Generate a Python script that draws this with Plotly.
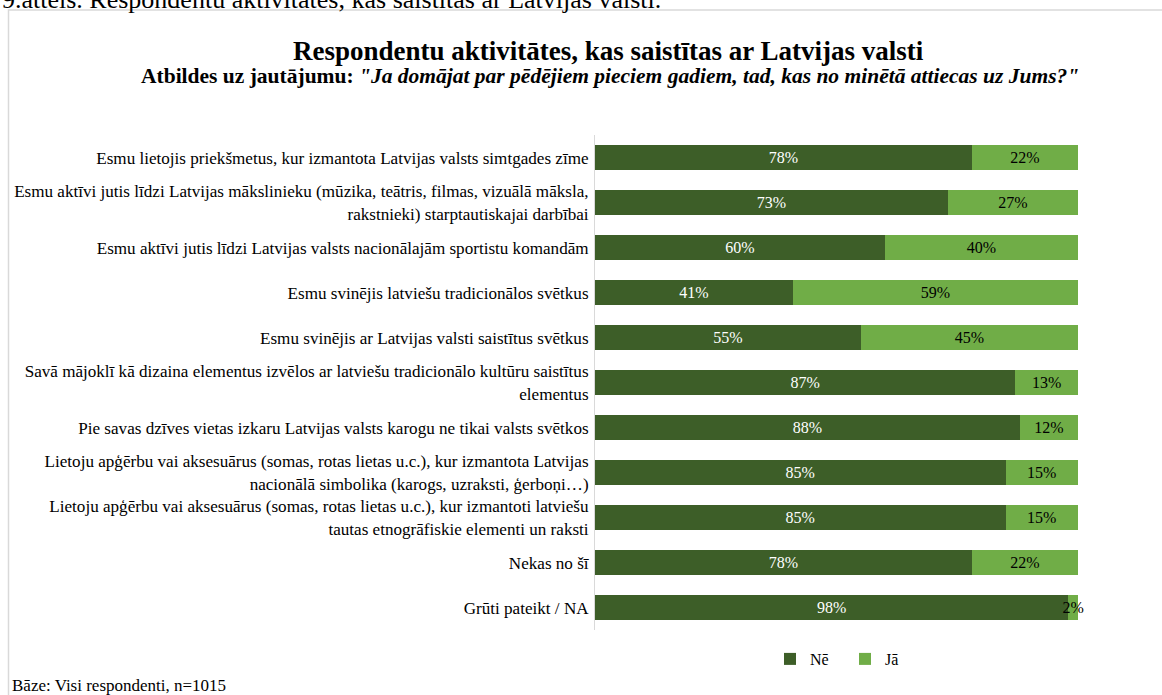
import plotly.graph_objects as go

categories = [
    "Esmu lietojis priekšmetus, kur izmantota Latvijas valsts simtgades zīme",
    "Esmu aktīvi jutis līdzi Latvijas mākslinieku (mūzika, teātris, filmas, vizuālā māksla,<br>rakstnieki) starptautiskajai darbībai",
    "Esmu aktīvi jutis līdzi Latvijas valsts nacionālajām sportistu komandām",
    "Esmu svinējis latviešu tradicionālos svētkus",
    "Esmu svinējis ar Latvijas valsti saistītus svētkus",
    "Savā mājoklī kā dizaina elementus izvēlos ar latviešu tradicionālo kultūru saistītus<br>elementus",
    "Pie savas dzīves vietas izkaru Latvijas valsts karogu ne tikai valsts svētkos",
    "Lietoju apģērbu vai aksesuārus (somas, rotas lietas u.c.), kur izmantota Latvijas<br>nacionālā simbolika (karogs, uzraksti, ģerboņi…)",
    "Lietoju apģērbu vai aksesuārus (somas, rotas lietas u.c.), kur izmantoti latviešu<br>tautas etnogrāfiskie elementi un raksti",
    "Nekas no šī",
    "Grūti pateikt / NA",
]
ne_values = [78, 73, 60, 41, 55, 87, 88, 85, 85, 78, 98]
ja_values = [22, 27, 40, 59, 45, 13, 12, 15, 15, 22, 2]
series_names = ["Nē", "Jā"]

title_text = "Respondentu aktivitātes, kas saistītas ar Latvijas valsti"
subtitle_bold = "Atbildes uz jautājumu: "
subtitle_italic = "\"Ja domājat par pēdējiem pieciem gadiem, tad, kas no minētā attiecas uz Jums?\""
caption_text = "9.attēls. Respondentu aktivitātes, kas saistītas ar Latvijas valstī."
base_text = "Bāze: Visi respondenti, n=1015"

dark = "#3d5e28"
light = "#70ad47"
font_family = "Liberation Serif"

fig = go.Figure()
fig.add_trace(go.Bar(
    y=categories, x=ne_values, name=series_names[0], orientation="h",
    marker=dict(color=dark, line=dict(width=0)),
    text=[f"{v}%" for v in ne_values], textposition="inside",
    insidetextanchor="middle", textangle=0,
    textfont=dict(color="white", size=16, family=font_family),
))
fig.add_trace(go.Bar(
    y=categories, x=ja_values, name=series_names[1], orientation="h",
    marker=dict(color=light, line=dict(width=0)),
    text=[f"{v}%" for v in ja_values], textposition="inside",
    insidetextanchor="middle", textangle=0,
    textfont=dict(color="black", size=16, family=font_family),
    cliponaxis=False,
))

# body margin is removed by post_script, so page pixels == figure pixels
W, H = 1162, 695
L = 595
T = 135
R = W - 1078
B = H - 630
pw, ph = W - L - R, H - T - B

def px_x(x):
    return (x - L) / pw

def px_y(y):
    return 1 - (y - T) / ph

fig.update_layout(
    width=W, height=H,
    barmode="stack", bargap=0.44,
    plot_bgcolor="white", paper_bgcolor="white",
    margin=dict(l=L, r=R, t=T, b=B, autoexpand=False),
    font=dict(family=font_family, size=17.1, color="black"),
    uniformtext=dict(minsize=16, mode="show"),
    showlegend=True,
    legend=dict(orientation="h", x=px_x(770), xanchor="left", y=px_y(659), yanchor="middle",
                font=dict(size=16, family=font_family), traceorder="normal",
                itemwidth=30, entrywidth=30, bgcolor="rgba(0,0,0,0)"),
    xaxis=dict(range=[0, 100], visible=False, fixedrange=True),
    yaxis=dict(autorange="reversed", showline=True, linecolor="#d9d9d9", linewidth=1,
               ticks="", showgrid=False, tickfont=dict(size=17.1, family=font_family, color="black"),
               ticklabelstandoff=2),
)

fig.add_shape(type="rect", xref="paper", yref="paper",
              x0=px_x(8.5), x1=px_x(1180), y0=px_y(10), y1=px_y(720),
              line=dict(color="#d9d9d9", width=1.5), fillcolor="rgba(0,0,0,0)", layer="below")

fig.add_annotation(text=caption_text, xref="paper", yref="paper", x=px_x(0), y=px_y(16),
                   xanchor="left", yanchor="bottom", showarrow=False,
                   font=dict(size=26, family=font_family, color="black"))
fig.add_annotation(text=f"<b>{title_text}</b>", xref="paper", yref="paper", x=px_x(608), y=px_y(51),
                   xanchor="center", yanchor="middle", showarrow=False,
                   font=dict(size=27, family=font_family, color="black"))
fig.add_annotation(text=f"<b>{subtitle_bold}<i>{subtitle_italic}</i></b>", xref="paper", yref="paper",
                   x=px_x(610), y=px_y(76), xanchor="center", yanchor="middle", showarrow=False,
                   font=dict(size=21.5, family=font_family, color="black"))
fig.add_annotation(text=base_text, xref="paper", yref="paper", x=px_x(10), y=px_y(685),
                   xanchor="left", yanchor="middle", showarrow=False,
                   font=dict(size=17, family=font_family, color="black"))

fig.write_html("out.html", config={"displayModeBar": False},
               post_script="document.body.style.margin='0';")
